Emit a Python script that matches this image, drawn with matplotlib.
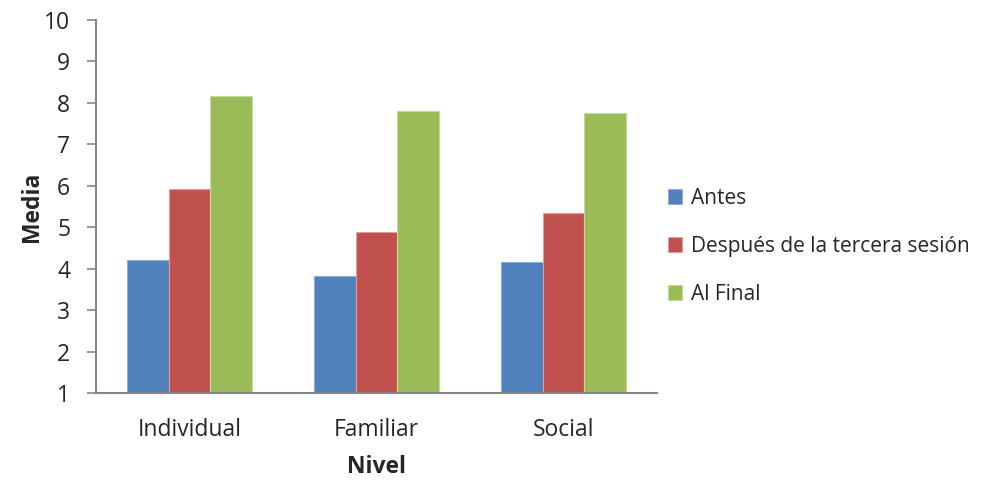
import matplotlib
matplotlib.use("Agg")
import matplotlib.pyplot as plt
import numpy as np

plt.rcParams['font.family'] = ['Open Sans', 'DejaVu Sans']
plt.rcParams['text.color'] = '#262626'
plt.rcParams['xtick.labelcolor'] = '#262626'
plt.rcParams['ytick.labelcolor'] = '#262626'
plt.rcParams['axes.labelcolor'] = '#262626'

categories = ["Individual", "Familiar", "Social"]
series_names = ["Antes", "Después de la tercera sesión", "Al Final"]
antes = [4.21, 3.83, 4.17]
despues = [5.92, 4.89, 5.34]
al_final = [8.18, 7.80, 7.76]
colors = ["#4F81BD", "#C0504D", "#9BBB59"]
edge_colors = ["#8EAEDB", "#E0A09E", "#C5DB98"]

fig = plt.figure(figsize=(10, 4.8), dpi=100)
ax = fig.add_axes([0.096, 0.1806, 0.561, 0.7777])

x = np.arange(len(categories))
width = 0.222
base = 1
handles = []
for i, (vals, name) in enumerate(zip([antes, despues, al_final], series_names)):
    h = ax.bar(x + (i - 1) * width, np.array(vals) - base, width, bottom=base,
               color=colors[i], edgecolor=edge_colors[i], linewidth=0.8, label=name)
    handles.append(h)

ax.set_xlim(-0.5, 2.5)
ax.set_ylim(1, 10)
ax.set_yticks(range(1, 11))
ax.set_xticks(x)
ax.set_xticklabels(categories)
ax.tick_params(axis='y', direction='out', length=6.5, width=1.2, color='#868686',
               labelsize=16.5, pad=12)
ax.tick_params(axis='x', length=0, labelsize=16.5, pad=18)
for s in ['top', 'right']:
    ax.spines[s].set_visible(False)
for s in ['left', 'bottom']:
    ax.spines[s].set_color('#868686')
    ax.spines[s].set_linewidth(1.5)
ax.set_ylabel("Media", fontsize=16.5, fontweight='bold', labelpad=0)
ax.set_xlabel("Nivel", fontsize=16.5, fontweight='bold', labelpad=9)

fig.legend(handles=handles, labels=series_names, loc='center left',
           bbox_to_anchor=(0.649, 0.487), frameon=False, fontsize=15,
           handlelength=0.7, handleheight=0.7, handletextpad=0.4, labelspacing=1.3)

fig.savefig("out.png", dpi=100)
